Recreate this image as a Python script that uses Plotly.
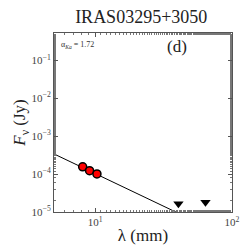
import numpy as np
import plotly.graph_objects as go

# data
wave_det = [8.1, 9.1, 10.3]          # mm
flux_det = [1.55e-4, 1.23e-4, 1.01e-4]  # Jy
wave_lim = [40.6, 64.0]
flux_lim = [1.66e-5, 1.8e-5]
alpha = 1.72
fit_ref_wave = 10.0
fit_ref_flux = 1.03e-4
fit_wave = [5.0, 100.0]

x_tickvals = [10, 100]
x_ticktext = ["10<sup>1</sup>", "10<sup>2</sup>"]
y_tickvals = [1e-5, 1e-4, 1e-3, 1e-2, 1e-1]
y_ticktext = ["10<sup>−5</sup>", "10<sup>−4</sup>", "10<sup>−3</sup>", "10<sup>−2</sup>", "10<sup>−1</sup>"]

fw = np.array(fit_wave)
ff = fit_ref_flux * (fw / fit_ref_wave) ** (-alpha)

font = "Liberation Serif, DejaVu Serif, serif"

fig = go.Figure()
fig.add_trace(go.Scatter(x=fw, y=ff, mode="lines",
                         line=dict(color="black", width=1), showlegend=False))
fig.add_trace(go.Scatter(x=wave_det, y=flux_det, mode="markers",
                         marker=dict(color="red", size=8, line=dict(color="black", width=1.5)),
                         showlegend=False))
fig.add_trace(go.Scatter(x=wave_lim, y=flux_lim, mode="markers",
                         marker=dict(color="black", size=9, symbol="triangle-down"),
                         showlegend=False))

axis_common = dict(showline=True, linecolor="#555", linewidth=1, mirror="allticks",
                   ticks="inside", ticklen=4, tickcolor="#555", showgrid=False, zeroline=False,
                   tickfont=dict(family=font, size=11, color="#444"),
                   minor=dict(ticks="inside", ticklen=2, tickcolor="#777", showgrid=False))

fig.update_xaxes(type="log", range=[np.log10(5), 2], tickvals=x_tickvals, ticktext=x_ticktext,
                 title=dict(text="λ (mm)", font=dict(family=font, size=17, color="#222"), standoff=1),
                 **axis_common)
fig.update_yaxes(type="log", range=[-5, -0.28], tickvals=y_tickvals, ticktext=y_ticktext,
                 title=dict(text="<i>F</i><sub>ν</sub> (Jy)", font=dict(family=font, size=17, color="#222"), standoff=0),
                 **axis_common)

fig.add_annotation(x=0.03, y=0.97, xref="paper", yref="paper", xanchor="left", yanchor="top",
                   text="α<sub><i>Ka</i></sub> = 1.72", showarrow=False,
                   font=dict(family=font, size=8, color="#333"))
fig.add_annotation(x=0.69, y=0.925, xref="paper", yref="paper", xanchor="center", yanchor="middle",
                   text="(d)", showarrow=False,
                   font=dict(family=font, size=17, color="#222"))

fig.update_layout(
    width=249, height=249,
    margin=dict(l=44, r=25, t=25, b=45),
    paper_bgcolor="white", plot_bgcolor="white",
    title=dict(text="IRAS03295+3050", x=0.535, xanchor="center", y=0.99, yanchor="top",
               font=dict(family=font, size=18, color="#222")),
)

fig.write_html("out.html")
